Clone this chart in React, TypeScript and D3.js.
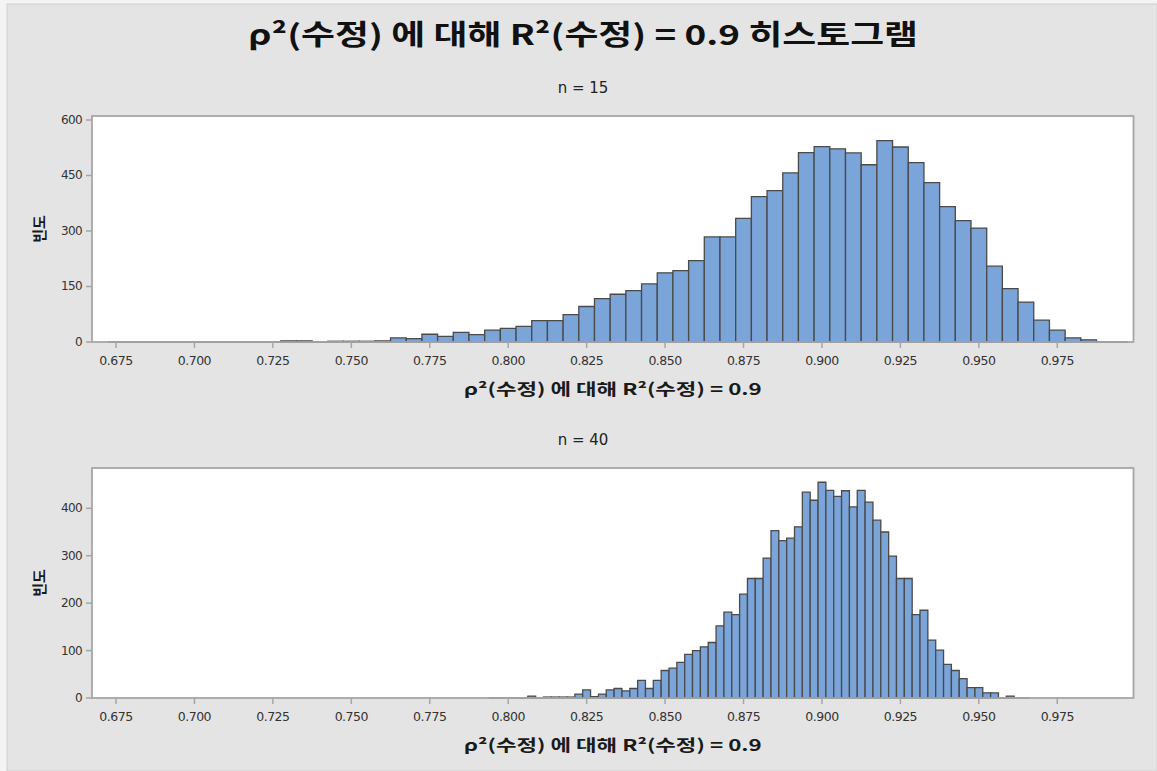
import React from 'react';
import * as d3 from 'd3';

// n = 15 histogram, bins of 0.005 centred on multiples of 0.005
const n15BinStart = 0.675;
const n15BinWidth = 0.005;
const n15Counts = [
  0, 0, 0, 0, 0, 0, 0, 0, 0, 0, 0, // 0.675 - 0.725
  3, 3, 0, 2, 2, 2, 3, 11, 9, 21, // 0.730 - 0.775
  15, 26, 20, 32, 37, 42, 58, 58, 74, 96, // 0.780 - 0.825
  117, 129, 139, 157, 187, 193, 220, 284, 284, 334, // 0.830 - 0.875
  393, 409, 457, 512, 528, 522, 511, 479, 544, 527, // 0.880 - 0.925
  485, 431, 366, 328, 308, 205, 144, 108, 59, 32, // 0.930 - 0.975
  11, 6, 0, 0, // 0.980 - 0.995
];

// n = 40 histogram, bins of 0.0025
const n40BinStart = 0.795;
const n40BinWidth = 0.0025;
const n40Counts = [
  0, 0, 0, 0, 0, 4, 0, 2, 2, 2, // 0.7950 - 0.8175
  2, 8, 17, 3, 8, 17, 20, 15, 20, 37, // 0.8200 - 0.8425
  20, 37, 58, 63, 75, 92, 100, 108, 117, 152, // 0.8450 - 0.8675
  181, 176, 219, 252, 252, 295, 353, 332, 337, 361, // 0.8700 - 0.8925
  434, 417, 455, 438, 425, 437, 403, 438, 413, 375, // 0.8950 - 0.9175
  350, 299, 252, 252, 176, 185, 122, 101, 71, 58, // 0.9200 - 0.9425
  41, 22, 22, 11, 11, 0, 4, 0, 0, // 0.9450 - 0.9650
];

const xTicks = [0.675, 0.7, 0.725, 0.75, 0.775, 0.8, 0.825, 0.85, 0.875, 0.9, 0.925, 0.95, 0.975];
const n15YTicks = [0, 150, 300, 450, 600];
const n40YTicks = [0, 100, 200, 300, 400];

const titleText = 'ρ²(수정) 에 대해 R²(수정) = 0.9 히스토그램';
const xLabelText = 'ρ²(수정) 에 대해 R²(수정) = 0.9';
const yLabelText = '빈도';

const korFont = '"Noto Sans CJK KR", "Noto Sans", sans-serif';
const numFont = '"DejaVu Sans", sans-serif';

type PanelProps = {
  counts: number[];
  binStart: number;
  binWidth: number;
  yTicks: number[];
  yMax: number;
  top: number;
  bottom: number;
  subtitle: string;
};

const left = 92;
const right = 1133.5;
const xDomain: [number, number] = [0.66735, 0.99929];

function Panel({ counts, binStart, binWidth, yTicks, yMax, top, bottom, subtitle }: PanelProps) {
  const x = d3.scaleLinear().domain(xDomain).range([left, right]);
  const y = d3.scaleLinear().domain([0, yMax]).range([bottom, top]);

  const bars = counts.map((c, i) => {
    const center = binStart + i * binWidth;
    const x0 = x(center - binWidth / 2);
    const x1 = x(center + binWidth / 2);
    const y0 = y(0);
    const y1 = y(c);
    return `M${x0},${y0}V${y1}H${x1}V${y0}Z`;
  });

  return (
    <g>
      <text x={583} y={top - 28} textAnchor="middle" dominantBaseline="central"
        fontFamily={numFont} fontSize={15} fill="#222">{subtitle}</text>
      <rect x={left} y={top} width={right - left} height={bottom - top} fill="#fff" />
      {bars.map((d, i) => (
        <path key={i} d={d} fill="#7ba4d8" stroke="#4a4a4a" strokeWidth={1.3} />
      ))}
      <rect x={left} y={top} width={right - left} height={bottom - top}
        fill="none" stroke="#a6a6a6" strokeWidth={1.8} />
      {yTicks.map((t) => (
        <g key={t}>
          <line x1={left - 6} x2={left} y1={y(t)} y2={y(t)} stroke="#a6a6a6" strokeWidth={1.5} />
          <text x={left - 10} y={y(t)} textAnchor="end" dominantBaseline="central"
            fontFamily={numFont} fontSize={12} fill="#333" letterSpacing={-0.6}>{t}</text>
        </g>
      ))}
      {xTicks.map((t) => (
        <g key={t}>
          <line x1={x(t)} x2={x(t)} y1={bottom} y2={bottom + 6} stroke="#a6a6a6" strokeWidth={1.5} />
          <text x={x(t)} y={bottom + 18} textAnchor="middle" dominantBaseline="central"
            fontFamily={numFont} fontSize={12.5} fill="#333" letterSpacing={-0.5}>{d3.format('.3f')(t)}</text>
        </g>
      ))}
      <text x={(left + right) / 2} y={bottom + 46} textAnchor="middle" dominantBaseline="central"
        fontFamily={korFont} fontWeight="bold" fontSize={16} fill="#1a1a1a"
        textLength={298} lengthAdjust="spacingAndGlyphs">{xLabelText}</text>
      <text transform={`translate(38,${(top + bottom) / 2}) rotate(-90)`} textAnchor="middle"
        dominantBaseline="central" fontFamily={korFont} fontWeight="bold" fontSize={15} fill="#1a1a1a">{yLabelText}</text>
    </g>
  );
}

export default function App() {
  const W = 1157;
  const H = 771;
  return (
    <svg width={W} height={H} style={{ position: 'absolute', left: 0, top: 0 }}>
      <rect x={0} y={0} width={W} height={H} fill="#f4f4f4" />
      <rect x={7} y={4} width={W - 7} height={H - 4} fill="#e4e4e4" stroke="#d0d0d0" strokeWidth={1} />
      <text x={583} y={33} textAnchor="middle" dominantBaseline="central"
        fontFamily={korFont} fontWeight="bold" fontSize={28} fill="#111"
        textLength={670} lengthAdjust="spacingAndGlyphs">{titleText}</text>
      <Panel counts={n15Counts} binStart={n15BinStart} binWidth={n15BinWidth}
        yTicks={n15YTicks} yMax={610.8} top={116} bottom={342} subtitle="n = 15" />
      <Panel counts={n40Counts} binStart={n40BinStart} binWidth={n40BinWidth}
        yTicks={n40YTicks} yMax={485} top={468} bottom={698} subtitle="n = 40" />
    </svg>
  );
}
